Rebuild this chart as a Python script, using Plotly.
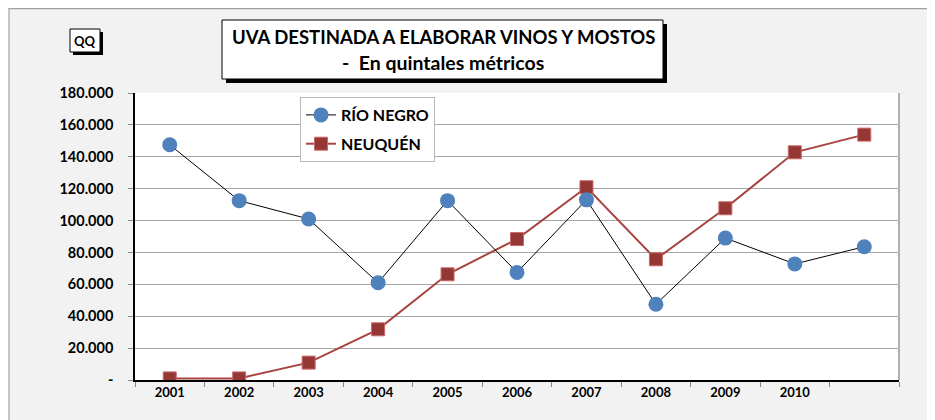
import plotly.graph_objects as go

# ---- data ----
years = ["2001", "2002", "2003", "2004", "2005", "2006", "2007", "2008", "2009", "2010", "2011"]
year_labels = ["2001", "2002", "2003", "2004", "2005", "2006", "2007", "2008", "2009", "2010", ""]
rio_negro = [147500, 112500, 101000, 61000, 112500, 67500, 113000, 47500, 89000, 72800, 83600]
neuquen = [1000, 1000, 10900, 31800, 66300, 88400, 120900, 75700, 107700, 142800, 153900]
y_ticks = [0, 20000, 40000, 60000, 80000, 100000, 120000, 140000, 160000, 180000]
y_tick_text = ["-", "20.000", "40.000", "60.000", "80.000", "100.000", "120.000", "140.000", "160.000", "180.000"]

W, H = 935, 420
OFF = 8  # page body margin
L, R, T, B = 135 - OFF, 899 - OFF, 93 - OFF, 380 - OFF  # plot area in figure pixels
FONT = "Lato, Calibri, Carlito, 'Open Sans', sans-serif"


def px(x):  # screen pixel x -> paper
    return (x - OFF - L) / (R - L)


def py(y):  # screen pixel y -> paper
    return (B - (y - OFF)) / (B - T)


fig = go.Figure()
fig.add_trace(go.Scatter(
    x=years, y=neuquen, name="NEUQUÉN", mode="lines+markers",
    legendgroup="b", legendrank=2,
    line=dict(color="#a84340", width=2),
    marker=dict(symbol="square", size=13, color="#953735", line=dict(color="#c86a67", width=1)),
))
fig.add_trace(go.Scatter(
    x=years, y=rio_negro, name="RÍO NEGRO", mode="lines+markers",
    legendgroup="a", legendrank=1,
    line=dict(color="#000000", width=1),
    marker=dict(symbol="circle", size=15, color="#4f81bd", line=dict(color="#4f81bd", width=0)),
))

shapes = []
# gray frame edges (top / left)
shapes.append(dict(type="line", xref="paper", yref="paper", x0=px(8), x1=px(W + 20), y0=py(8.5), y1=py(8.5),
                   line=dict(color="#a0a0a0", width=1.5)))
shapes.append(dict(type="line", xref="paper", yref="paper", x0=px(9), x1=px(9), y0=py(8), y1=py(H + 20),
                   line=dict(color="#b4b4b4", width=1.5)))
# right border of plot area
shapes.append(dict(type="line", xref="paper", yref="paper", x0=1, x1=1, y0=0, y1=1,
                   line=dict(color="#b0b0b0", width=2)))
# title box with shadow
shapes.append(dict(type="rect", xref="paper", yref="paper", x0=px(226), x1=px(667), y0=py(24), y1=py(83),
                   fillcolor="black", line=dict(width=0)))
shapes.append(dict(type="rect", xref="paper", yref="paper", x0=px(222), x1=px(663), y0=py(20), y1=py(79),
                   fillcolor="white", line=dict(color="black", width=1)))
# QQ box with shadow
shapes.append(dict(type="rect", xref="paper", yref="paper", x0=px(73), x1=px(103), y0=py(32), y1=py(55),
                   fillcolor="black", line=dict(width=0)))
shapes.append(dict(type="rect", xref="paper", yref="paper", x0=px(70), x1=px(100), y0=py(29), y1=py(52),
                   fillcolor="white", line=dict(color="black", width=1)))

annotations = [
    dict(text="UVA DESTINADA A ELABORAR VINOS Y MOSTOS", x=px(443), y=py(37), xref="paper", yref="paper",
         showarrow=False, xanchor="center", yanchor="middle",
         font=dict(family=FONT, size=18.5, color="black", weight="bold")),
    dict(text="-  En quintales métricos", x=px(443), y=py(62), xref="paper", yref="paper",
         showarrow=False, xanchor="center", yanchor="middle",
         font=dict(family=FONT, size=19.5, color="black", weight="bold")),
    dict(text="QQ", x=px(85), y=py(40.5), xref="paper", yref="paper",
         showarrow=False, xanchor="center", yanchor="middle",
         font=dict(family=FONT, size=13, color="black", weight="bold")),
]

fig.update_layout(
    width=W, height=H,
    margin=dict(l=L, r=W - R, t=T, b=H - B),
    paper_bgcolor="#f2f2f2", plot_bgcolor="white",
    font=dict(family=FONT, color="black"),
    shapes=shapes, annotations=annotations,
    legend=dict(
        x=px(300), y=py(97), xanchor="left", yanchor="top",
        bgcolor="white", bordercolor="#b8b8b8", borderwidth=1,
        font=dict(family=FONT, size=16, color="black", weight="bold"),
        traceorder="grouped", tracegroupgap=5,
        itemwidth=30,
    ),
    showlegend=True,
    xaxis=dict(
        type="category", categoryorder="array", categoryarray=years,
        tickmode="array", tickvals=years, ticktext=year_labels,
        tickson="boundaries", ticks="outside", ticklen=5, tickcolor="#888888",
        showgrid=False, showline=True, linecolor="black", linewidth=1.5,
        tickfont=dict(family=FONT, size=13, color="black", weight="bold"),
        range=[-0.5, 10.5], fixedrange=True,
    ),
    yaxis=dict(
        range=[0, 180000], tickmode="array", tickvals=y_ticks, ticktext=y_tick_text,
        ticks="outside", ticklen=5, tickcolor="#888888",
        showgrid=True, gridcolor="#a6a6a6", gridwidth=1,
        showline=True, linecolor="black", linewidth=1.5, zeroline=False,
        tickfont=dict(family=FONT, size=14.5, color="black", weight="bold"),
        ticklabelstandoff=12, fixedrange=True,
    ),
)

fig.write_html("out.html")
